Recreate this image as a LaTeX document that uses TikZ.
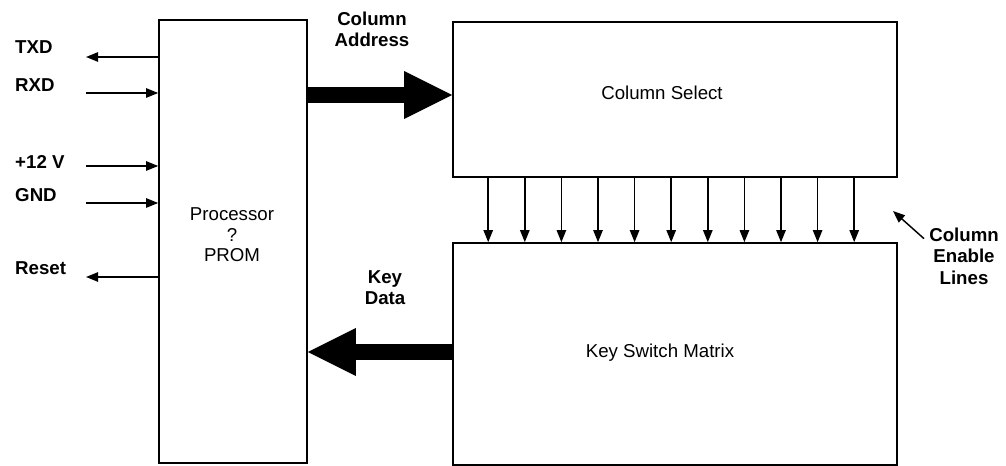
\documentclass[tikz,border=0pt]{standalone}
\usepackage{fontspec}
\setmainfont{Liberation Sans}
\usetikzlibrary{arrows.meta}

\begin{document}
\begin{tikzpicture}[x=0.75pt, y=-0.75pt, every node/.style = {align=center, font=\fontsize{14}{15.5}\selectfont}, line width=1.2pt]
	\tikzstyle{block} = [draw, rectangle, inner sep=0pt]
	\tikzstyle{sig} = [anchor=west, font=\fontsize{14}{15.5}\selectfont\bfseries]
	\tikzstyle{tag} = [font=\fontsize{14}{16}\selectfont\bfseries]
	\tikzstyle{wire} = [line width=1.1pt, -{Triangle[length=9pt, width=7pt]}]
	\tikzstyle{bus} = [line width=12pt, -{Triangle[length=36pt, width=36pt, line width=0pt]}]
	\useasboundingbox (0,0) rectangle (1006,466);
	% blocks
	\node[block, minimum width=111pt, minimum height=332pt] (proc) at (233,241.5) {};
	\node[block, minimum width=333pt, minimum height=116pt] (colsel) at (675,99.5) {};
	\node[block, minimum width=333pt, minimum height=166.5pt] (keysw) at (675,354) {};
	\node (proctxt) at (232,235) {Processor\\?\\PROM};
	\node (colseltxt) at (662,93) {Column Select};
	\node (keyswtxt) at (660,353) {Key Switch Matrix};
	% serial and power lines
	\node[sig] (txdlbl) at (10,47) {TXD};
	\node[sig] (rxdlbl) at (10,85) {RXD};
	\node[sig] (pwrlbl) at (10,162) {+12 V};
	\node[sig] (gndlbl) at (10,195) {GND};
	\node[sig] (rstlbl) at (10,268) {Reset};
	\coordinate (txd) at (86,57);
	\coordinate (rxd) at (86,93);
	\coordinate (pwr) at (86,166);
	\coordinate (gnd) at (86,203);
	\coordinate (rst) at (86,277);
	\draw[wire] (proc.west |- txd) -- (txd);
	\draw[wire] (rxd) -- (rxd -| proc.west);
	\draw[wire] (pwr) -- (pwr -| proc.west);
	\draw[wire] (gnd) -- (gnd -| proc.west);
	\draw[wire] (proc.west |- rst) -- (rst);
	% buses
	\coordinate (ca) at (0,95);
	\coordinate (kd) at (0,352);
	\node[tag] (caddr) at (372,29) {Column\\Address};
	\node[tag] (kdata) at (385,288) {Key\\Data};
	\draw[bus] (proc.east |- ca) -- (colsel.west |- ca);
	\draw[bus] (keysw.west |- kd) -- (proc.east |- kd);
	% column enable lines
	\foreach \i in {0,...,10}
		\draw[wire] ([xshift=27pt+\i*27.45pt]colsel.south west) -- ([xshift=27pt+\i*27.45pt]keysw.north west);
	\node[tag] (cel) at (964,256) {Column\\Enable\\Lines};
	\coordinate (celtip) at (893,211);
	\draw[wire] ([yshift=13pt]cel.west) -- (celtip);
\end{tikzpicture}
\end{document}
